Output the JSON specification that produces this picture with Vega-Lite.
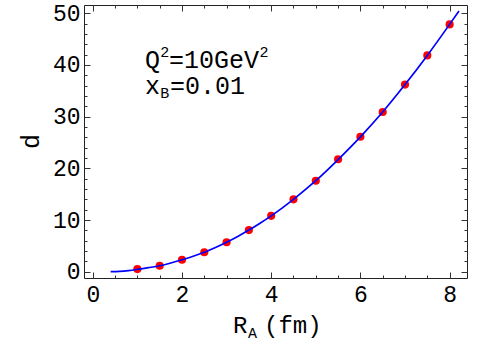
{
  "$schema": "https://vega.github.io/schema/vega-lite/v6.json",
  "width": 383,
  "height": 273,
  "autosize": {"type": "none"},
  "padding": {"left": 84, "top": 5, "right": 17, "bottom": 68},
  "background": "white",
  "config": {
    "view": {"stroke": "#222", "strokeWidth": 1},
    "font": "Liberation Mono",
    "text": {"font": "Liberation Mono", "fontWeight": "normal", "color": "#000", "align": "left", "baseline": "alphabetic"},
    "axis": {
      "domain": false,
      "grid": false,
      "labelFont": "Liberation Mono",
      "labelFontWeight": "normal",
      "labelFontSize": 23,
      "labelColor": "#000",
      "tickColor": "#333",
      "tickWidth": 1,
      "title": null
    }
  },
  "datasets": {
    "pts": [
      {"R": 1, "d": 0.5}, {"R": 1.5, "d": 1.15}, {"R": 2, "d": 2.3}, {"R": 2.5, "d": 3.75},
      {"R": 3, "d": 5.7}, {"R": 3.5, "d": 8.05}, {"R": 4, "d": 10.8}, {"R": 4.5, "d": 14.0},
      {"R": 5, "d": 17.6}, {"R": 5.5, "d": 21.75}, {"R": 6, "d": 26.1}, {"R": 6.5, "d": 30.9},
      {"R": 7, "d": 36.2}, {"R": 7.5, "d": 41.85}, {"R": 8, "d": 47.85}
    ],
    "curve": [
      {"R": 0.4, "d": 0.0}, {"R": 0.6, "d": 0.06}, {"R": 0.8, "d": 0.22}, {"R": 1, "d": 0.45},
      {"R": 1.25, "d": 0.78}, {"R": 1.5, "d": 1.15}, {"R": 1.75, "d": 1.68}, {"R": 2, "d": 2.3},
      {"R": 2.25, "d": 2.98}, {"R": 2.5, "d": 3.75}, {"R": 2.75, "d": 4.68}, {"R": 3, "d": 5.7},
      {"R": 3.25, "d": 6.82}, {"R": 3.5, "d": 8.05}, {"R": 3.75, "d": 9.38}, {"R": 4, "d": 10.8},
      {"R": 4.5, "d": 14.0}, {"R": 5, "d": 17.6}, {"R": 5.5, "d": 21.7}, {"R": 6, "d": 26.1},
      {"R": 6.5, "d": 30.9}, {"R": 7, "d": 36.2}, {"R": 7.5, "d": 41.85}, {"R": 8, "d": 47.85},
      {"R": 8.21, "d": 50.45}
    ],
    "one": [{}]
  },
  "resolve": {"axis": {"x": "independent", "y": "independent"}},
  "layer": [
    {
      "data": {"name": "pts"},
      "mark": {"type": "circle", "color": "#ff0000", "opacity": 1, "size": 66},
      "encoding": {
        "x": {
          "field": "R", "type": "quantitative",
          "scale": {"domain": [-0.197, 8.39], "nice": false, "zero": false},
          "axis": {
            "orient": "bottom",
            "values": [0, 0.5, 1, 1.5, 2, 2.5, 3, 3.5, 4, 4.5, 5, 5.5, 6, 6.5, 7, 7.5, 8],
            "labelExpr": "datum.value % 2 === 0 ? format(datum.value, 'd') : ''",
            "tickSize": {"condition": {"test": "datum.value % 2 === 0", "value": -6}, "value": -3},
            "labelPadding": 11
          }
        },
        "y": {
          "field": "d", "type": "quantitative",
          "scale": {"domain": [-1.22, 51.6], "nice": false, "zero": false},
          "axis": {
            "orient": "left",
            "values": [0, 2, 4, 6, 8, 10, 12, 14, 16, 18, 20, 22, 24, 26, 28, 30, 32, 34, 36, 38, 40, 42, 44, 46, 48, 50],
            "labelExpr": "datum.value % 10 === 0 ? format(datum.value, 'd') : ''",
            "tickSize": {"condition": {"test": "datum.value % 10 === 0", "value": -6}, "value": -3},
            "labelPadding": 10
          }
        }
      }
    },
    {
      "data": {"name": "curve"},
      "mark": {"type": "line", "color": "#0000ff", "strokeWidth": 1.7, "interpolate": "monotone"},
      "encoding": {
        "x": {
          "field": "R", "type": "quantitative",
          "axis": {
            "orient": "top",
            "values": [0, 0.5, 1, 1.5, 2, 2.5, 3, 3.5, 4, 4.5, 5, 5.5, 6, 6.5, 7, 7.5, 8],
            "labels": false,
            "tickSize": {"condition": {"test": "datum.value % 2 === 0", "value": -6}, "value": -3}
          }
        },
        "y": {
          "field": "d", "type": "quantitative",
          "axis": {
            "orient": "right",
            "values": [0, 2, 4, 6, 8, 10, 12, 14, 16, 18, 20, 22, 24, 26, 28, 30, 32, 34, 36, 38, 40, 42, 44, 46, 48, 50],
            "labels": false,
            "tickSize": {"condition": {"test": "datum.value % 10 === 0", "value": -6}, "value": -3}
          }
        }
      }
    },
    {
      "data": {"name": "one"},
      "mark": {"type": "text", "text": "Q", "fontSize": 25},
      "encoding": {"x": {"datum": 1.17, "type": "quantitative", "axis": null}, "y": {"datum": 39.47, "type": "quantitative", "axis": null}}
    },
    {
      "data": {"name": "one"},
      "mark": {"type": "text", "text": "2", "fontSize": 15},
      "encoding": {"x": {"datum": 1.51, "type": "quantitative", "axis": null}, "y": {"datum": 41.6, "type": "quantitative", "axis": null}}
    },
    {
      "data": {"name": "one"},
      "mark": {"type": "text", "text": "=10GeV", "fontSize": 25},
      "encoding": {"x": {"datum": 1.71, "type": "quantitative", "axis": null}, "y": {"datum": 39.47, "type": "quantitative", "axis": null}}
    },
    {
      "data": {"name": "one"},
      "mark": {"type": "text", "text": "2", "fontSize": 15},
      "encoding": {"x": {"datum": 3.74, "type": "quantitative", "axis": null}, "y": {"datum": 41.6, "type": "quantitative", "axis": null}}
    },
    {
      "data": {"name": "one"},
      "mark": {"type": "text", "text": "x", "fontSize": 25},
      "encoding": {"x": {"datum": 1.17, "type": "quantitative", "axis": null}, "y": {"datum": 34.4, "type": "quantitative", "axis": null}}
    },
    {
      "data": {"name": "one"},
      "mark": {"type": "text", "text": "B", "fontSize": 15},
      "encoding": {"x": {"datum": 1.51, "type": "quantitative", "axis": null}, "y": {"datum": 33.7, "type": "quantitative", "axis": null}}
    },
    {
      "data": {"name": "one"},
      "mark": {"type": "text", "text": "=0.01", "fontSize": 25},
      "encoding": {"x": {"datum": 1.73, "type": "quantitative", "axis": null}, "y": {"datum": 34.4, "type": "quantitative", "axis": null}}
    },
    {
      "data": {"name": "one"},
      "mark": {"type": "text", "text": "R", "fontSize": 24},
      "encoding": {"x": {"datum": 3.143, "type": "quantitative", "axis": null}, "y": {"datum": -11.86, "type": "quantitative", "axis": null}}
    },
    {
      "data": {"name": "one"},
      "mark": {"type": "text", "text": "A", "fontSize": 15},
      "encoding": {"x": {"datum": 3.48, "type": "quantitative", "axis": null}, "y": {"datum": -12.9, "type": "quantitative", "axis": null}}
    },
    {
      "data": {"name": "one"},
      "mark": {"type": "text", "text": "(fm)", "fontSize": 24},
      "encoding": {"x": {"datum": 3.84, "type": "quantitative", "axis": null}, "y": {"datum": -11.86, "type": "quantitative", "axis": null}}
    },
    {
      "data": {"name": "one"},
      "mark": {"type": "text", "text": "d", "fontSize": 25, "align": "center", "angle": 270},
      "encoding": {"x": {"datum": -1.206, "type": "quantitative", "axis": null}, "y": {"datum": 25.2, "type": "quantitative", "axis": null}}
    }
  ]
}
